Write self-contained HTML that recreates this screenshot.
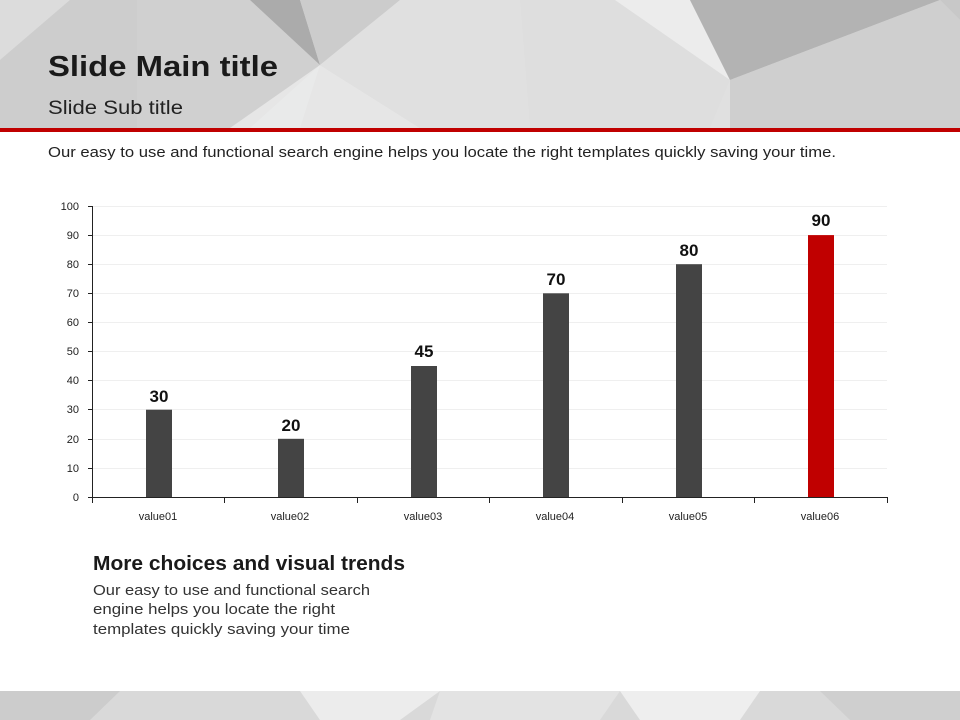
<!DOCTYPE html>
<html><head><meta charset="utf-8"><style>
body{margin:0;width:960px;height:720px;overflow:hidden;background:#fff;font-family:"Liberation Sans",sans-serif}
</style></head><body>
<svg width="960" height="720" xmlns="http://www.w3.org/2000/svg" style="position:absolute;left:0;top:0">
<rect x="0" y="0" width="960" height="128" fill="#d6d6d6"/>
<polygon points="0,0 70,0 0,60" fill="#dcdcdc"/>
<polygon points="70,0 137,0 137,128 0,128 0,60" fill="#cdcdcd"/>
<polygon points="137,0 250,0 320,65 300,128 137,128" fill="#d0d0d0"/>
<polygon points="250,0 300,0 320,65" fill="#ababab"/>
<polygon points="300,0 400,0 320,65" fill="#cccccc"/>
<polygon points="320,65 230,128 420,128" fill="#e6e6e6"/>
<polygon points="320,65 300,128 250,128" fill="#e9eaea"/>
<polygon points="400,0 620,0 730,80 730,128 420,128 320,65" fill="#e0e0e0"/>
<polygon points="520,0 615,0 730,80 710,128 530,128" fill="#dedede"/>
<polygon points="615,0 690,0 730,80" fill="#ececec"/>
<polygon points="690,0 940,0 730,80" fill="#b3b3b3"/>
<polygon points="940,0 960,0 960,20" fill="#c8c8c8"/>
<polygon points="730,80 940,0 960,20 960,128 730,128" fill="#cfcfcf"/>
<rect x="0" y="128" width="960" height="4" fill="#c00000"/>
<rect x="0" y="691" width="960" height="29" fill="#d9d9d9"/>
<polygon points="300,691 440,691 400,720 320,720" fill="#ececec"/>
<polygon points="440,691 620,691 600,720 430,720" fill="#e3e3e3"/>
<polygon points="620,691 760,691 740,720 640,720" fill="#eeeeee"/>
<polygon points="0,691 120,691 90,720 0,720" fill="#cccccc"/>
<polygon points="820,691 960,691 960,720 850,720" fill="#cfcfcf"/>
<text x="48" y="76" font-size="29" font-weight="bold" fill="#1a1a1a" textLength="230" lengthAdjust="spacingAndGlyphs">Slide Main title</text>
<text x="48" y="114" font-size="19" fill="#222" textLength="135" lengthAdjust="spacingAndGlyphs">Slide Sub title</text>
<text x="48" y="157" font-size="15" fill="#222" textLength="788" lengthAdjust="spacingAndGlyphs">Our easy to use and functional search engine helps you locate the right templates quickly saving your time.</text>
<g stroke="#efefef" stroke-width="1">
<line x1="92" x2="887" y1="206.5" y2="206.5"/><line x1="92" x2="887" y1="235.5" y2="235.5"/>
<line x1="92" x2="887" y1="264.5" y2="264.5"/><line x1="92" x2="887" y1="293.5" y2="293.5"/>
<line x1="92" x2="887" y1="322.5" y2="322.5"/><line x1="92" x2="887" y1="351.5" y2="351.5"/>
<line x1="92" x2="887" y1="380.5" y2="380.5"/><line x1="92" x2="887" y1="409.5" y2="409.5"/>
<line x1="92" x2="887" y1="439.5" y2="439.5"/><line x1="92" x2="887" y1="468.5" y2="468.5"/>
</g>
<g fill="#444">
<rect x="146" y="409.7" width="26" height="87.3"/>
<rect x="278" y="438.8" width="26" height="58.2"/>
<rect x="411" y="366" width="26" height="131"/>
<rect x="543" y="293.3" width="26" height="203.7"/>
<rect x="676" y="264.2" width="26" height="232.8"/>
<rect x="808" y="235.1" width="26" height="261.9" fill="#c00000"/>
</g>
<g stroke="#222" stroke-width="1">
<line x1="92.5" y1="206" x2="92.5" y2="503"/>
<line x1="88" y1="497.5" x2="887" y2="497.5"/>
<line x1="224.5" y1="497" x2="224.5" y2="503"/><line x1="357.5" y1="497" x2="357.5" y2="503"/>
<line x1="489.5" y1="497" x2="489.5" y2="503"/><line x1="622.5" y1="497" x2="622.5" y2="503"/>
<line x1="754.5" y1="497" x2="754.5" y2="503"/><line x1="887.5" y1="497" x2="887.5" y2="503"/>
<line x1="88" x2="92" y1="206.5" y2="206.5"/><line x1="88" x2="92" y1="235.5" y2="235.5"/>
<line x1="88" x2="92" y1="264.5" y2="264.5"/><line x1="88" x2="92" y1="293.5" y2="293.5"/>
<line x1="88" x2="92" y1="322.5" y2="322.5"/><line x1="88" x2="92" y1="351.5" y2="351.5"/>
<line x1="88" x2="92" y1="380.5" y2="380.5"/><line x1="88" x2="92" y1="409.5" y2="409.5"/>
<line x1="88" x2="92" y1="439.5" y2="439.5"/><line x1="88" x2="92" y1="468.5" y2="468.5"/>
</g>
<g font-size="11" fill="#222" text-anchor="end">
<text x="79" y="210">100</text><text x="79" y="239">90</text><text x="79" y="268">80</text>
<text x="79" y="297">70</text><text x="79" y="326">60</text><text x="79" y="355">50</text>
<text x="79" y="384">40</text><text x="79" y="413">30</text><text x="79" y="443">20</text>
<text x="79" y="472">10</text><text x="79" y="501">0</text>
</g>
<g font-size="11" fill="#222" text-anchor="middle">
<text x="158" y="520">value01</text><text x="290" y="520">value02</text><text x="423" y="520">value03</text>
<text x="555" y="520">value04</text><text x="688" y="520">value05</text><text x="820" y="520">value06</text>
</g>
<g font-size="17" font-weight="bold" fill="#111" text-anchor="middle">
<text x="159" y="402">30</text><text x="291" y="431">20</text><text x="424" y="357">45</text>
<text x="556" y="285">70</text><text x="689" y="256">80</text><text x="821" y="226">90</text>
</g>
<text x="93" y="570" font-size="20" font-weight="bold" fill="#1a1a1a" textLength="312" lengthAdjust="spacingAndGlyphs">More choices and visual trends</text>
<g font-size="15" fill="#333">
<text x="93" y="595" textLength="277" lengthAdjust="spacingAndGlyphs">Our easy to use and functional search</text>
<text x="93" y="614" textLength="242" lengthAdjust="spacingAndGlyphs">engine helps you locate the right</text>
<text x="93" y="634" textLength="257" lengthAdjust="spacingAndGlyphs">templates quickly saving your time</text>
</g>
</svg>
</body></html>
